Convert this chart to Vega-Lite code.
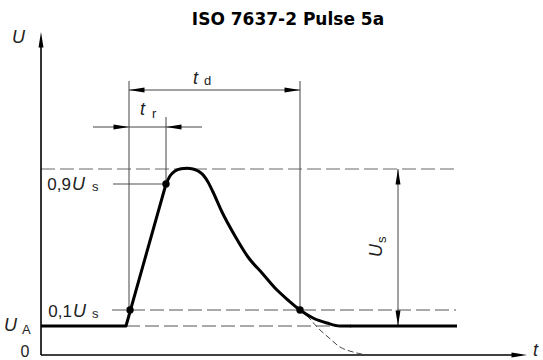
{
  "$schema": "https://vega.github.io/schema/vega-lite/v6.json",
  "width": 543,
  "height": 360,
  "autosize": {"type": "none"},
  "padding": 0,
  "background": "white",
  "config": {"view": {"stroke": null}},
  "datasets": {
    "axes": [
      {"t": 0, "U": 0, "t2": 0, "U2": 316},
      {"t": 0, "U": 0, "t2": 480, "U2": 0}
    ],
    "thin": [
      {"t": 88, "U": 274, "t2": 88, "U2": 45},
      {"t": 125, "U": 238, "t2": 125, "U2": 171},
      {"t": 259, "U": 274, "t2": 259, "U2": 45},
      {"t": 88, "U": 265, "t2": 259, "U2": 265},
      {"t": 52, "U": 228, "t2": 161, "U2": 228},
      {"t": 357, "U": 186, "t2": 357, "U2": 29}
    ],
    "leader": [
      {"t": 72, "U": 171, "t2": 125, "U2": 171}
    ],
    "dashedTop": [
      {"t": 0, "U": 186, "t2": 415, "U2": 186}
    ],
    "dashedLow": [
      {"t": 71, "U": 45, "t2": 415, "U2": 45},
      {"t": 85, "U": 29, "t2": 304, "U2": 29}
    ],
    "rise": [
      {"t": 0, "U": 29},
      {"t": 85, "U": 29},
      {"t": 125, "U": 171}
    ],
    "pulse": [
      {"t": 125, "U": 171},
      {"t": 129, "U": 179},
      {"t": 134, "U": 184},
      {"t": 140, "U": 186.3},
      {"t": 146, "U": 186.7},
      {"t": 152, "U": 186},
      {"t": 158, "U": 183.5},
      {"t": 163, "U": 179},
      {"t": 167, "U": 173},
      {"t": 172, "U": 163},
      {"t": 181, "U": 143},
      {"t": 194, "U": 119},
      {"t": 207, "U": 98},
      {"t": 221, "U": 82},
      {"t": 234, "U": 67},
      {"t": 247, "U": 55},
      {"t": 259, "U": 45},
      {"t": 272, "U": 37},
      {"t": 286, "U": 32},
      {"t": 299, "U": 29},
      {"t": 309, "U": 29}
    ],
    "tail": [
      {"t": 309, "U": 29},
      {"t": 416, "U": 29}
    ],
    "decay": [
      {"t": 259, "U": 45},
      {"t": 269, "U": 36},
      {"t": 276, "U": 28},
      {"t": 287, "U": 18},
      {"t": 299, "U": 8},
      {"t": 312, "U": 3},
      {"t": 326, "U": 0}
    ],
    "dots": [
      {"t": 89, "U": 45},
      {"t": 125, "U": 171},
      {"t": 259, "U": 45}
    ],
    "arrowsRight": [
      {"t": 486, "U": 0},
      {"t": 259, "U": 265},
      {"t": 88, "U": 228}
    ],
    "arrowsLeft": [
      {"t": 88, "U": 265},
      {"t": 125, "U": 228}
    ],
    "arrowsUp": [
      {"t": 0, "U": 323},
      {"t": 357, "U": 186}
    ],
    "arrowsDown": [
      {"t": 357, "U": 29}
    ],
    "title": [
      {"label": "ISO 7637-2 Pulse 5a", "t": 247, "U": 330}
    ],
    "italic": [
      {"label": "U", "t": -29, "U": 312},
      {"label": "t", "t": 492, "U": -1},
      {"label": "U", "t": -37, "U": 24},
      {"label": "U", "t": 31, "U": 165},
      {"label": "U", "t": 32, "U": 38},
      {"label": "t", "t": 152, "U": 271},
      {"label": "t", "t": 99, "U": 240}
    ],
    "numbers": [
      {"label": "0,9", "t": 30, "U": 165},
      {"label": "0,1", "t": 31, "U": 38}
    ],
    "zero": [
      {"label": "0", "t": -16, "U": -2}
    ],
    "subs": [
      {"label": "A", "t": -19, "U": 21},
      {"label": "s", "t": 51, "U": 164},
      {"label": "s", "t": 51, "U": 37},
      {"label": "d", "t": 163, "U": 270},
      {"label": "r", "t": 111, "U": 237}
    ],
    "rotU": [
      {"label": "U", "t": 341, "U": 98}
    ],
    "rotS": [
      {"label": "s", "t": 345, "U": 112}
    ]
  },
  "encoding": {
    "x": {"field": "t", "type": "quantitative", "axis": null, "scale": {"domain": [-41, 502], "nice": false, "zero": false}},
    "y": {"field": "U", "type": "quantitative", "axis": null, "scale": {"domain": [-5, 355], "nice": false, "zero": false}}
  },
  "layer": [
    {
      "data": {"name": "dashedTop"},
      "mark": {"type": "rule", "color": "#9a9a9a", "strokeWidth": 1.5, "strokeDash": [14, 5]},
      "encoding": {"x2": {"field": "t2"}, "y2": {"field": "U2"}}
    },
    {
      "data": {"name": "dashedLow"},
      "mark": {"type": "rule", "color": "#555555", "strokeWidth": 1, "strokeDash": [14, 5]},
      "encoding": {"x2": {"field": "t2"}, "y2": {"field": "U2"}}
    },
    {
      "data": {"name": "leader"},
      "mark": {"type": "rule", "color": "#8a8a8a", "strokeWidth": 1.5},
      "encoding": {"x2": {"field": "t2"}, "y2": {"field": "U2"}}
    },
    {
      "data": {"name": "thin"},
      "mark": {"type": "rule", "color": "#444444", "strokeWidth": 1},
      "encoding": {"x2": {"field": "t2"}, "y2": {"field": "U2"}}
    },
    {
      "data": {"name": "axes"},
      "mark": {"type": "rule", "color": "#000000", "strokeWidth": 1.6},
      "encoding": {"x2": {"field": "t2"}, "y2": {"field": "U2"}}
    },
    {
      "data": {"name": "decay"},
      "mark": {"type": "line", "color": "#444444", "strokeWidth": 1, "strokeDash": [6, 3], "interpolate": "monotone"},
      "encoding": {}
    },
    {
      "data": {"name": "rise"},
      "mark": {"type": "line", "color": "#000000", "strokeWidth": 3, "strokeJoin": "round"},
      "encoding": {}
    },
    {
      "data": {"name": "pulse"},
      "mark": {"type": "line", "color": "#000000", "strokeWidth": 3, "interpolate": "monotone", "strokeCap": "round"},
      "encoding": {}
    },
    {
      "data": {"name": "tail"},
      "mark": {"type": "line", "color": "#000000", "strokeWidth": 3.2},
      "encoding": {}
    },
    {
      "data": {"name": "dots"},
      "mark": {"type": "point", "shape": "circle", "filled": true, "color": "#000000", "size": 55, "opacity": 1}
    },
    {
      "data": {"name": "arrowsRight"},
      "mark": {"type": "point", "shape": "M0,0L-2,-0.32L-2,0.32Z", "filled": true, "color": "#000000", "size": 240, "angle": 0, "opacity": 1}
    },
    {
      "data": {"name": "arrowsLeft"},
      "mark": {"type": "point", "shape": "M0,0L-2,-0.32L-2,0.32Z", "filled": true, "color": "#000000", "size": 240, "angle": 180, "opacity": 1}
    },
    {
      "data": {"name": "arrowsUp"},
      "mark": {"type": "point", "shape": "M0,0L-2,-0.32L-2,0.32Z", "filled": true, "color": "#000000", "size": 240, "angle": 270, "opacity": 1}
    },
    {
      "data": {"name": "arrowsDown"},
      "mark": {"type": "point", "shape": "M0,0L-2,-0.32L-2,0.32Z", "filled": true, "color": "#000000", "size": 240, "angle": 90, "opacity": 1}
    },
    {
      "data": {"name": "title"},
      "mark": {"type": "text", "font": "DejaVu Sans", "fontWeight": "bold", "fontSize": 17, "align": "center", "baseline": "alphabetic", "color": "#000000"},
      "encoding": {"text": {"field": "label"}}
    },
    {
      "data": {"name": "italic"},
      "mark": {"type": "text", "font": "Liberation Sans", "fontStyle": "italic", "fontSize": 18, "align": "left", "baseline": "alphabetic", "color": "#222222"},
      "encoding": {"text": {"field": "label"}}
    },
    {
      "data": {"name": "numbers"},
      "mark": {"type": "text", "font": "Liberation Sans", "fontSize": 17, "align": "right", "baseline": "alphabetic", "color": "#222222"},
      "encoding": {"text": {"field": "label"}}
    },
    {
      "data": {"name": "zero"},
      "mark": {"type": "text", "font": "Liberation Sans", "fontSize": 16, "align": "center", "baseline": "alphabetic", "color": "#222222"},
      "encoding": {"text": {"field": "label"}}
    },
    {
      "data": {"name": "subs"},
      "mark": {"type": "text", "font": "Liberation Sans", "fontSize": 13, "align": "left", "baseline": "alphabetic", "color": "#222222"},
      "encoding": {"text": {"field": "label"}}
    },
    {
      "data": {"name": "rotU"},
      "mark": {"type": "text", "font": "Liberation Sans", "fontStyle": "italic", "fontSize": 18, "align": "left", "baseline": "alphabetic", "angle": 270, "color": "#222222"},
      "encoding": {"text": {"field": "label"}}
    },
    {
      "data": {"name": "rotS"},
      "mark": {"type": "text", "font": "Liberation Sans", "fontSize": 13, "align": "left", "baseline": "alphabetic", "angle": 270, "color": "#222222"},
      "encoding": {"text": {"field": "label"}}
    }
  ]
}
